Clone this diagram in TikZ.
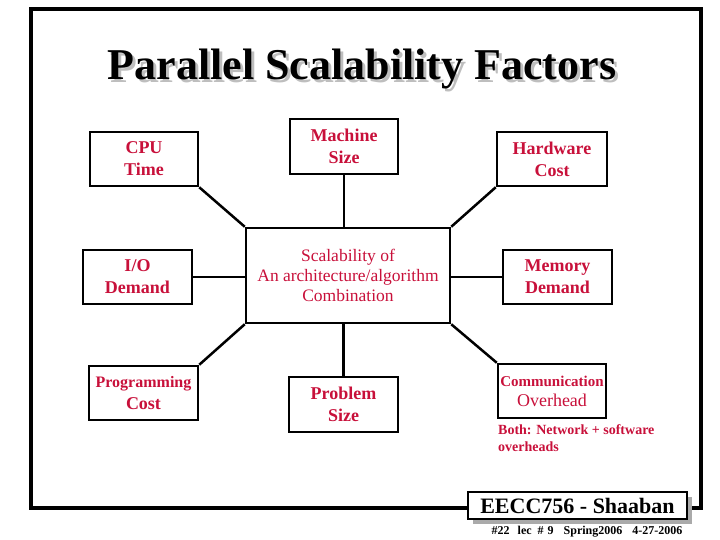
\documentclass[tikz,border=0pt]{standalone}
\usepackage{fontspec}
\setmainfont{Liberation Serif}
\definecolor{txtred}{RGB}{200,16,58}
\definecolor{shadowgray}{RGB}{170,170,170}
\definecolor{titlegray}{RGB}{190,190,190}
\begin{document}
\begin{tikzpicture}[x=1pt,y=-1pt,
  fbox/.style={draw,line width=2.5pt,inner sep=0pt,text=txtred,
    font=\bfseries\fontsize{18}{22}\selectfont,align=center},
  conn/.style={line width=2.5pt}]
\useasboundingbox (0,0) rectangle (720,540);
% frame
\draw[line width=3.5pt] (31,9) rectangle (701,508);
% title (with its shadow in the same text)
\node[anchor=base,font=\bfseries\fontsize{44}{50}\selectfont] (title) at (362,80)
  {\makebox[0pt][l]{\hspace{3pt}\raisebox{-3pt}{\textcolor{titlegray}{Parallel Scalability Factors}}}Parallel Scalability Factors};
% boxes
\node[fbox,minimum width=108pt,minimum height=54pt] (cpu) at (144,159) {CPU\\Time};
\node[fbox,minimum width=108pt,minimum height=55pt] (mach) at (344,146.5) {Machine\\Size};
\node[fbox,minimum width=110pt,minimum height=54pt] (hw) at (552,159) {Hardware\\Cost};
\node[fbox,minimum width=109pt,minimum height=54pt] (io) at (137.5,277) {I/O\\Demand};
\node[fbox,minimum width=109pt,minimum height=54pt] (mem) at (557.5,277) {Memory\\Demand};
\node[fbox,minimum width=109pt,minimum height=54pt] (prog) at (143.5,393) {{\fontsize{16}{20}\selectfont Programming}\\Cost};
\node[fbox,minimum width=109pt,minimum height=55pt] (prob) at (343.5,404.5) {Problem\\Size};
\node[fbox,minimum width=108pt,minimum height=54pt,font=\bfseries\fontsize{15}{20}\selectfont] (comm) at (552,391) {Communication\\{\mdseries\fontsize{18}{20}\selectfont Overhead}};
\node[fbox,minimum width=204pt,minimum height=95pt,font=\mdseries\fontsize{17.5}{20}\selectfont] (core) at (348,275.5) {Scalability of\\An architecture/algorithm\\Combination};
% note
\node[anchor=north west,inner sep=0pt,text=txtred,align=left,font=\bfseries\fontsize{14}{17}\selectfont] (note) at (498,424) {Both: Network + software\\overheads};
% connectors
\draw[conn] (cpu.south east) -- (core.north west);
\draw[conn] (mach.south) -- (mach.south |- core.north);
\draw[conn] (hw.south west) -- (core.north east);
\draw[conn] (io.east) -- (io.east -| core.west);
\draw[conn] (mem.west) -- (mem.west -| core.east);
\draw[conn] (prog.north east) -- (core.south west);
\draw[conn] (prob.north) -- (prob.north |- core.south);
\draw[conn] (comm.north west) -- (core.south east);
% footer
\node[fill=shadowgray,minimum width=219pt,minimum height=27pt,inner sep=0pt] (foosh) at (582.5,510.5) {};
\node[draw,fill=white,line width=2pt,minimum width=219pt,minimum height=27pt,inner sep=0pt,font=\bfseries\fontsize{22}{24}\selectfont] (eecc) at (577.5,505.5) {EECC756 - Shaaban};
\node[font=\bfseries\fontsize{12}{13}\selectfont,inner sep=0pt] (foot) at (587,532) {\#22\hspace{8pt}lec\hspace{6pt}\#\hspace{4pt}9\hspace{10pt}Spring2006\hspace{10pt}4-27-2006};
\end{tikzpicture}
\end{document}
